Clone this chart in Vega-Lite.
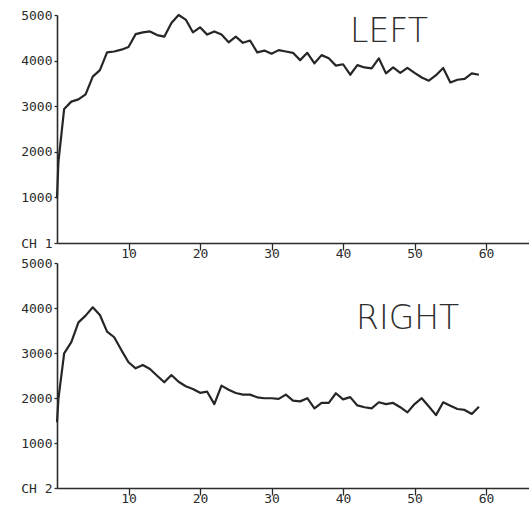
{
  "$schema": "https://vega.github.io/schema/vega-lite/v6.json",
  "background": "white",
  "padding": {"left": 20, "top": 9, "right": 0, "bottom": 0},
  "bounds": "flush",
  "spacing": 20,
  "config": {
    "view": {"stroke": null},
    "axis": {
      "grid": false,
      "domainColor": "#2b2b2b",
      "domainWidth": 1.6,
      "tickColor": "#2b2b2b",
      "tickWidth": 1.3,
      "labelFont": "DejaVu Sans Mono",
      "labelFontSize": 13,
      "labelColor": "#2b2b2b",
      "title": null
    },
    "title": {
      "font": "DejaVu Sans",
      "fontWeight": 200,
      "fontSize": 33,
      "color": "#2e2e2e",
      "anchor": "start",
      "frame": "group",
      "baseline": "alphabetic",
      "offset": 0
    }
  },
  "datasets": {
    "left": [
      {"t": 0, "v": 980}, {"t": 0.2, "v": 1780}, {"t": 1, "v": 2940}, {"t": 2, "v": 3100},
      {"t": 3, "v": 3150}, {"t": 4, "v": 3260}, {"t": 5, "v": 3650}, {"t": 6, "v": 3790},
      {"t": 7, "v": 4180}, {"t": 8, "v": 4200}, {"t": 9, "v": 4240}, {"t": 10, "v": 4300},
      {"t": 11, "v": 4580}, {"t": 12, "v": 4620}, {"t": 13, "v": 4640}, {"t": 14, "v": 4560},
      {"t": 15, "v": 4525}, {"t": 16, "v": 4825}, {"t": 17, "v": 5000}, {"t": 18, "v": 4900},
      {"t": 19, "v": 4620}, {"t": 20, "v": 4730}, {"t": 21, "v": 4570}, {"t": 22, "v": 4640},
      {"t": 23, "v": 4570}, {"t": 24, "v": 4400}, {"t": 25, "v": 4525}, {"t": 26, "v": 4390},
      {"t": 27, "v": 4440}, {"t": 28, "v": 4180}, {"t": 29, "v": 4220}, {"t": 30, "v": 4150},
      {"t": 31, "v": 4230}, {"t": 32, "v": 4200}, {"t": 33, "v": 4170}, {"t": 34, "v": 4010},
      {"t": 35, "v": 4170}, {"t": 36, "v": 3940}, {"t": 37, "v": 4120}, {"t": 38, "v": 4050},
      {"t": 39, "v": 3890}, {"t": 40, "v": 3920}, {"t": 41, "v": 3690}, {"t": 42, "v": 3900},
      {"t": 43, "v": 3850}, {"t": 44, "v": 3830}, {"t": 45, "v": 4050}, {"t": 46, "v": 3720},
      {"t": 47, "v": 3850}, {"t": 48, "v": 3730}, {"t": 49, "v": 3840}, {"t": 50, "v": 3730},
      {"t": 51, "v": 3630}, {"t": 52, "v": 3560}, {"t": 53, "v": 3680}, {"t": 54, "v": 3840},
      {"t": 55, "v": 3520}, {"t": 56, "v": 3580}, {"t": 57, "v": 3600}, {"t": 58, "v": 3720},
      {"t": 59, "v": 3690}
    ],
    "right": [
      {"t": 0, "v": 1460}, {"t": 0.2, "v": 1980}, {"t": 1, "v": 2990}, {"t": 2, "v": 3240},
      {"t": 3, "v": 3680}, {"t": 4, "v": 3830}, {"t": 5, "v": 4015}, {"t": 6, "v": 3845},
      {"t": 7, "v": 3475}, {"t": 8, "v": 3350}, {"t": 9, "v": 3065}, {"t": 10, "v": 2795},
      {"t": 11, "v": 2660}, {"t": 12, "v": 2735}, {"t": 13, "v": 2645}, {"t": 14, "v": 2495},
      {"t": 15, "v": 2350}, {"t": 16, "v": 2510}, {"t": 17, "v": 2360}, {"t": 18, "v": 2260},
      {"t": 19, "v": 2200}, {"t": 20, "v": 2115}, {"t": 21, "v": 2140}, {"t": 22, "v": 1865},
      {"t": 23, "v": 2275}, {"t": 24, "v": 2185}, {"t": 25, "v": 2110}, {"t": 26, "v": 2075},
      {"t": 27, "v": 2075}, {"t": 28, "v": 2015}, {"t": 29, "v": 1995}, {"t": 30, "v": 1995},
      {"t": 31, "v": 1980}, {"t": 32, "v": 2075}, {"t": 33, "v": 1940}, {"t": 34, "v": 1925},
      {"t": 35, "v": 1995}, {"t": 36, "v": 1770}, {"t": 37, "v": 1890}, {"t": 38, "v": 1890},
      {"t": 39, "v": 2105}, {"t": 40, "v": 1970}, {"t": 41, "v": 2020}, {"t": 42, "v": 1835},
      {"t": 43, "v": 1795}, {"t": 44, "v": 1770}, {"t": 45, "v": 1905}, {"t": 46, "v": 1865},
      {"t": 47, "v": 1890}, {"t": 48, "v": 1795}, {"t": 49, "v": 1680}, {"t": 50, "v": 1865},
      {"t": 51, "v": 1995}, {"t": 52, "v": 1810}, {"t": 53, "v": 1620}, {"t": 54, "v": 1905},
      {"t": 55, "v": 1830}, {"t": 56, "v": 1755}, {"t": 57, "v": 1735}, {"t": 58, "v": 1645},
      {"t": 59, "v": 1805}
    ]
  },
  "vconcat": [
    {
      "width": 472,
      "height": 228,
      "data": {"name": "left"},
      "title": {"text": "LEFT", "dx": 293, "dy": 44},
      "mark": {"type": "line", "color": "#262626", "strokeWidth": 2.2, "strokeJoin": "round"},
      "encoding": {
        "x": {
          "field": "t", "type": "quantitative",
          "scale": {"domain": [0, 66], "nice": false, "zero": false},
          "axis": {"values": [10, 20, 30, 40, 50, 60], "tickSize": 7, "labelPadding": -3}
        },
        "y": {
          "field": "v", "type": "quantitative",
          "scale": {"domain": [0, 5000], "nice": false},
          "axis": {"values": [0, 1000, 2000, 3000, 4000, 5000], "tickSize": 3, "labelPadding": 2,
                   "labelExpr": "datum.value == 0 ? 'CH 1' : datum.label", "format": "d"}
        }
      }
    },
    {
      "width": 472,
      "height": 225,
      "data": {"name": "right"},
      "title": {"text": "RIGHT", "dx": 299, "dy": 83},
      "mark": {"type": "line", "color": "#262626", "strokeWidth": 2.2, "strokeJoin": "round"},
      "encoding": {
        "x": {
          "field": "t", "type": "quantitative",
          "scale": {"domain": [0, 66], "nice": false, "zero": false},
          "axis": {"values": [10, 20, 30, 40, 50, 60], "tickSize": 7, "labelPadding": -3}
        },
        "y": {
          "field": "v", "type": "quantitative",
          "scale": {"domain": [0, 5000], "nice": false},
          "axis": {"values": [0, 1000, 2000, 3000, 4000, 5000], "tickSize": 3, "labelPadding": 2,
                   "labelExpr": "datum.value == 0 ? 'CH 2' : datum.label", "format": "d"}
        }
      }
    }
  ]
}
